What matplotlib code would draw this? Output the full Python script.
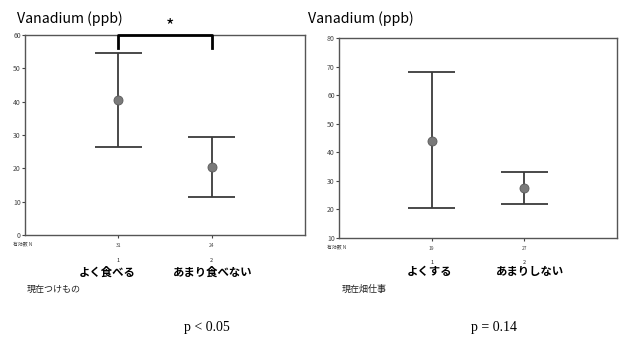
import matplotlib
matplotlib.use("Agg")
import matplotlib.pyplot as plt

plt.rcParams["font.family"] = ["Noto Sans CJK JP", "DejaVu Sans"]

# left panel: pickles (つけもの)
left_groups = ["よく食べる", "あまり食べない"]
left_counts = ["31", "24"]
left_mean = [40.5, 20.5]
left_upper = [54.5, 29.5]
left_lower = [26.5, 11.5]
left_ticks = [0, 10, 20, 30, 40, 50, 60]

# right panel: field work (畑仕事)
right_groups = ["よくする", "あまりしない"]
right_counts = ["19", "27"]
right_mean = [44.0, 27.5]
right_upper = [68.0, 33.0]
right_lower = [20.5, 22.0]
right_ticks = [10, 20, 30, 40, 50, 60, 70, 80]

line_col = "#3a3a3a"
dot_col = "#7a7a7a"


def draw_panel(ax, means, upper, lower, ticks):
    xs = [1, 2]
    for x, m, hi, lo in zip(xs, means, upper, lower):
        ax.vlines(x, lo, hi, color=line_col, lw=1.3)
        ax.hlines([lo, hi], x - 0.25, x + 0.25, color=line_col, lw=1.3)
        ax.plot(x, m, "o", ms=6.5, color=dot_col, mec="#5a5a5a", mew=0.6, zorder=3)
    ax.set_xlim(0, 3)
    ax.set_ylim(ticks[0], ticks[-1])
    ax.set_yticks(ticks)
    ax.set_xticks(xs)
    ax.set_xticklabels([])
    ax.tick_params(labelsize=5, length=2, width=0.8, colors="#444", pad=1)
    for s in ax.spines.values():
        s.set_color("#555")
        s.set_linewidth(1.0)


fig = plt.figure(figsize=(6.23, 3.39), dpi=100)

ax1 = fig.add_axes([25 / 623, 1 - 235 / 339, 280 / 623, 200 / 339])
draw_panel(ax1, left_mean, left_upper, left_lower, left_ticks)
# significance bracket
ax1.plot([1, 1, 2, 2], [56, 60, 60, 56], color="black", lw=2, clip_on=False, zorder=4)
ax1.text(1.55, 62.5, "*", ha="center", va="center", fontsize=13, clip_on=False)

ax2 = fig.add_axes([339 / 623, 1 - 238 / 339, 278 / 623, 200 / 339])
draw_panel(ax2, right_mean, right_upper, right_lower, right_ticks)

# titles
fig.text(17 / 623, 1 - 19 / 339, "Vanadium (ppb)", fontsize=10.2, va="center", ha="left")
fig.text(308 / 623, 1 - 19 / 339, "Vanadium (ppb)", fontsize=10.2, va="center", ha="left")


# counts row and category labels
def labels(ax, x0, y0, counts, groups, group_x, var_name, var_x):
    tr = ax.get_xaxis_transform()
    fig.text(x0 / 623, 1 - y0 / 339, "有効数 N", fontsize=3.5, color="#444",
             va="center", ha="left")
    for i, c in enumerate(counts):
        ax.text(i + 1, -0.04, c, transform=tr, fontsize=3.5, color="#444",
                ha="center", va="top")
        ax.text(i + 1, -0.125, str(i + 1), transform=tr, fontsize=4, ha="center",
                va="center", color="#222")
    for g, gx in zip(groups, group_x):
        fig.text(gx / 623, 1 - 272 / 339, g, fontsize=8.2, fontweight="bold",
                 ha="center", va="center")
    fig.text(var_x / 623, 1 - 289 / 339, var_name, fontsize=6.5,
             ha="left", va="center", color="#222")


labels(ax1, 13, 244, left_counts, left_groups, [107, 213], "現在つけもの", 27)
labels(ax2, 327, 247, right_counts, right_groups, [430, 530], "現在畑仕事", 342)

fig.text(207 / 623, 1 - 328 / 339, "p < 0.05", fontsize=10, family="Liberation Serif",
         ha="center", va="center")
fig.text(494 / 623, 1 - 328 / 339, "p = 0.14", fontsize=10, family="Liberation Serif",
         ha="center", va="center")

fig.savefig("out.png", dpi=100)
